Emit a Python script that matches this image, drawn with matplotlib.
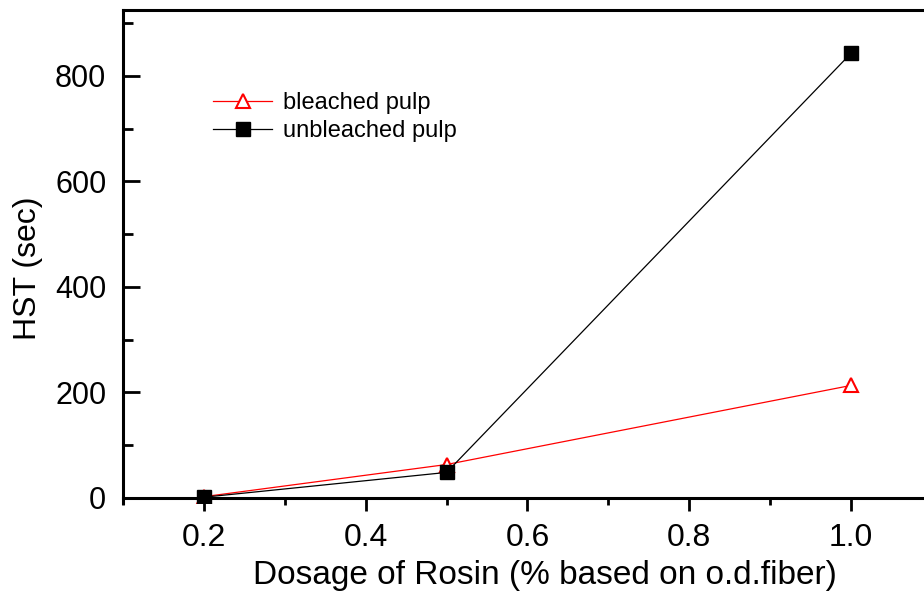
import matplotlib
matplotlib.use("Agg")
import matplotlib.pyplot as plt
from matplotlib.ticker import MultipleLocator

plt.rcParams['font.family'] = ['Liberation Sans', 'DejaVu Sans']

dosage = [0.2, 0.5, 1.0]
bleached = [2, 63, 213]
unbleached = [1, 48, 843]

fig = plt.figure(figsize=(9.24, 5.96), dpi=100)
W, H = 924, 596
ax = fig.add_axes([123 / W, 1 - 503 / H, (932 - 123) / W, (503 - 10) / H])

ax.plot(dosage, bleached, color='red', lw=0.9, marker='^', ms=10, mfc='white',
        mec='red', mew=1.5, label='bleached pulp', zorder=3)
ax.plot(dosage, unbleached, color='black', lw=0.9, marker='s', ms=10, mfc='black',
        mec='black', label='unbleached pulp', zorder=4)

ax.set_xlim(0.1, 1.1)
ax.set_ylim(-10, 925)
ax.spines['bottom'].set_position(('data', 0))
ax.spines['right'].set_visible(False)
for s in ['left', 'bottom', 'top']:
    ax.spines[s].set_linewidth(2.2)

ax.xaxis.set_major_locator(MultipleLocator(0.2))
ax.xaxis.set_minor_locator(MultipleLocator(0.1))
ax.yaxis.set_major_locator(MultipleLocator(200))
ax.yaxis.set_minor_locator(MultipleLocator(100))
ax.set_xticks([0.2, 0.4, 0.6, 0.8, 1.0])
ax.set_xticklabels(['0.2', '0.4', '0.6', '0.8', '1.0'])
ax.set_yticks([0, 200, 400, 600, 800])

ax.tick_params(axis='x', which='major', direction='out', length=9, width=2, labelsize=23, pad=9)
ax.tick_params(axis='x', which='minor', direction='out', length=5, width=2)
ax.tick_params(axis='y', which='major', direction='in', length=12, width=2, labelsize=22, pad=12)
ax.tick_params(axis='y', which='minor', direction='in', length=7, width=2)

ax.set_xlabel('Dosage of Rosin (% based on o.d.fiber)', fontsize=24)
ax.set_ylabel('HST (sec)', fontsize=23)
# label anchors (figure pixel positions converted to axes coords)
ax.xaxis.set_label_coords((545 - 123) / (932 - 123), (503 - 560) / (503 - 10))
ax.yaxis.set_label_coords((43 - 123) / (932 - 123), (503 - 268) / (503 - 10))

ax.legend(loc='upper left', bbox_to_anchor=(0.085, 0.876), frameon=False, fontsize=17,
          handlelength=2.5, handletextpad=0.45, labelspacing=0.25)

fig.savefig('out.png', dpi=100)
